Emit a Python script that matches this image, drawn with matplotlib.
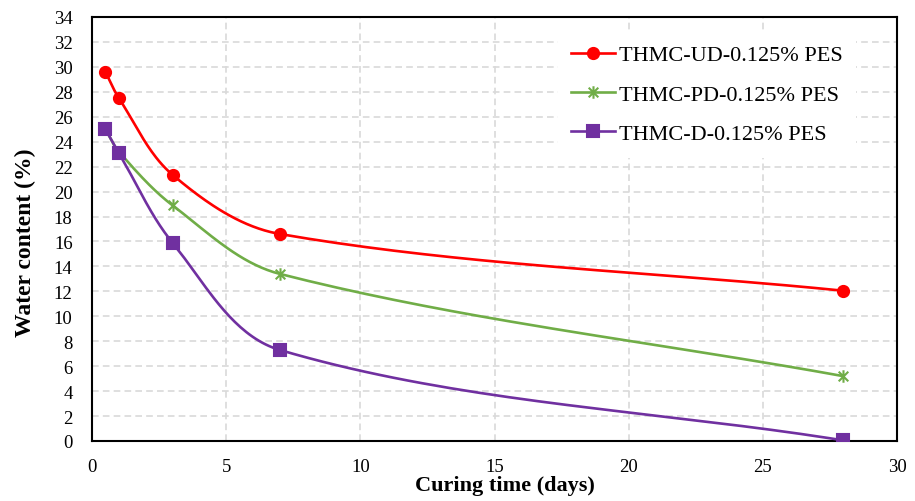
import numpy as np
import matplotlib.pyplot as plt
from matplotlib.path import Path

# curing time (days) and water content (%)
days = [0.5, 1, 3, 7, 28]
ud = [29.6, 27.5, 21.35, 16.6, 12.05]
pd_ = [25.0, 23.2, 18.9, 13.4, 5.2]
d = [25.0, 23.1, 15.9, 7.3, 0.05]
labels = ['THMC-UD-0.125% PES', 'THMC-PD-0.125% PES', 'THMC-D-0.125% PES']
colors = ['#FF0000', '#70AD47', '#7030A0']

plt.rcParams['font.family'] = ['Liberation Serif', 'DejaVu Serif']

XMAX, YMAX = 30, 34
W, H = 805.0, 424.0  # plot area in pixels, used for smoothing like Excel


def smooth(x, y, n=40):
    # bezier smoothing in screen space, tangent scaled by segment length
    px = np.array(x) / XMAX * W
    py = np.array(y) / YMAX * H
    P = np.column_stack([px, py])
    k = len(P)
    tang = []
    for i in range(k):
        a = P[max(i - 1, 0)]
        b = P[min(i + 1, k - 1)]
        v = b - a
        tang.append(v / np.hypot(*v))
    out = []
    t = np.linspace(0, 1, n)[:, None]
    for i in range(k - 1):
        p1, p2 = P[i], P[i + 1]
        L = np.hypot(*(p2 - p1)) / 3
        c1 = p1 + tang[i] * L
        c2 = p2 - tang[i + 1] * L
        seg = (1 - t)**3 * p1 + 3 * (1 - t)**2 * t * c1 + 3 * (1 - t) * t**2 * c2 + t**3 * p2
        out.append(seg)
    out = np.vstack(out)
    return out[:, 0] / W * XMAX, out[:, 1] / H * YMAX


# asterisk marker (x with a vertical bar)
star = Path([(-1, -1), (1, 1), (-1, 1), (1, -1), (0, -1.3), (0, 1.3)],
            [Path.MOVETO, Path.LINETO, Path.MOVETO, Path.LINETO, Path.MOVETO, Path.LINETO])
markers = ['o', star, 's']
msizes = [8, 9, 8]

fig = plt.figure(figsize=(9.15, 5.02), dpi=100)
ax = fig.add_axes([92 / 915, 60 / 502, 805 / 915, 424 / 502])

for ys, lab, c, m, ms in zip([ud, pd_, d], labels, colors, markers, msizes):
    sx, sy = smooth(days, ys)
    ax.plot(sx, sy, color=c, lw=1.9, zorder=3)
    ax.plot(days, ys, linestyle='none', marker=m, ms=ms, color=c,
            mec=c, mew=1.5, zorder=4)
    ax.plot([], [], color=c, lw=1.9, marker=m, ms=ms, mec=c, mew=1.5, label=lab)

ax.set_xlim(0, XMAX)
ax.set_ylim(0, YMAX)
ax.set_xticks(np.arange(0, 31, 5))
ax.set_yticks(np.arange(0, 35, 2))
ax.grid(True, color='#D9D9D9', linestyle=(0, (4, 2.5)), lw=1.2, zorder=0)
ax.tick_params(length=0, labelsize=13.5)
ax.tick_params(axis='x', pad=12)
ax.tick_params(axis='y', pad=14)
for s in ax.spines.values():
    s.set_color('black')
    s.set_linewidth(1.5)

ax.set_xlabel('Curing time (days)', fontsize=16, fontweight='bold')
ax.set_ylabel('Water content (%)', fontsize=17, fontweight='bold')
ax.xaxis.set_label_coords(0.513, -0.081)
ax.yaxis.set_label_coords(-0.069, 0.469)

leg = ax.legend(loc='upper left', bbox_to_anchor=(0.579, 0.966), fontsize=16,
                frameon=True, facecolor='white', edgecolor='none', framealpha=1,
                fancybox=False, labelspacing=0.85, handlelength=1.95, handletextpad=0.2,
                borderpad=0.6, borderaxespad=0)

fig.savefig('out.png', dpi=100)
